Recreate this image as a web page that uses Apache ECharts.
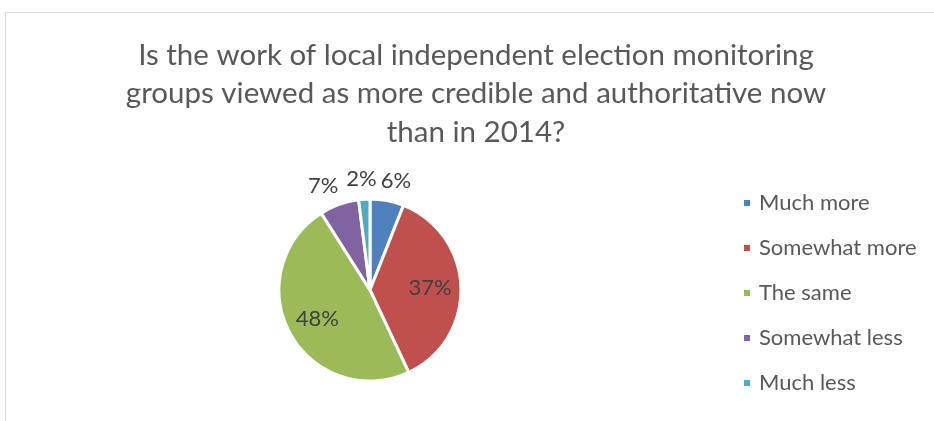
<!DOCTYPE html>
<html>
<head>
<meta charset="utf-8">
<script src="https://cdn.jsdelivr.net/npm/echarts@6/dist/echarts.min.js"></script>
<style>
  html, body { margin: 0; padding: 0; background: #ffffff; }
  #chart { width: 934px; height: 421px; }
</style>
</head>
<body>
<div id="chart"></div>
<script>
// Survey answers and their shares (percent)
var categories = ['Much more', 'Somewhat more', 'The same', 'Somewhat less', 'Much less'];
var shares = [6, 37, 48, 7, 2];
var colors = ['#4F81BD', '#C0504D', '#9BBB59', '#8064A2', '#4BACC6'];
// Large slices carry their label inside, small ones outside
var labelInside = [false, true, true, false, false];

var titleText = 'Is the work of local independent election monitoring\n' +
  'groups viewed as more credible and authoritative now\n' +
  'than in 2014?';

var FONT = 'Lato, "Open Sans", sans-serif';
var PIE_CENTER = [370, 290];
var PIE_RADIUS = 91;

// Mid angle of every slice, clockwise from 12 o'clock (radians)
var total = shares.reduce(function (a, b) { return a + b; }, 0);
var midAngles = [];
(function () {
  var acc = 0;
  shares.forEach(function (v) {
    midAngles.push((acc + v / 2) / total * Math.PI * 2);
    acc += v;
  });
})();

var chart = echarts.init(document.getElementById('chart'), null, { renderer: 'canvas' });

var data = categories.map(function (name, i) {
  return {
    name: name,
    value: shares[i],
    itemStyle: { color: colors[i] },
    label: { position: labelInside[i] ? 'inside' : 'outside' }
  };
});

// Inside labels sit at ~2/3 of the radius; outside labels sit just past
// the rim, pushed sideways by part of their own width.
function placeLabel(params) {
  var i = params.dataIndex;
  var a = midAngles[i];
  var sx = Math.sin(a), sy = -Math.cos(a);
  var w = params.labelRect.width, h = params.labelRect.height;
  var x, y;
  if (labelInside[i]) {
    x = PIE_CENTER[0] + sx * PIE_RADIUS * 0.66;
    y = PIE_CENTER[1] + sy * PIE_RADIUS * 0.66;
  } else {
    var r = PIE_RADIUS + 9;
    var side = sx < 0 ? -1 : 1;
    x = PIE_CENTER[0] + sx * r + side * w * 0.5 * Math.min(1, 2.5 * Math.abs(sx));
    y = PIE_CENTER[1] + sy * r + sy * h * 0.5;
  }
  return { x: x, y: y, align: 'center', verticalAlign: 'middle' };
}

chart.setOption({
  animation: false,
  backgroundColor: '#ffffff',
  graphic: [{
    type: 'rect',
    shape: { x: 5.5, y: 12.5, width: 1000, height: 1000 },
    style: { fill: 'none', stroke: '#d9d9d9', lineWidth: 1 },
    silent: true,
    z: -1
  }],
  title: {
    text: titleText,
    left: 476,
    top: 36,
    textAlign: 'center',
    padding: 0,
    textStyle: {
      fontFamily: FONT,
      fontSize: 29.5,
      fontWeight: 'normal',
      color: '#595959',
      lineHeight: 38.5
    }
  },
  legend: {
    orient: 'vertical',
    left: 742,
    top: 192,
    padding: 0,
    itemWidth: 8,
    itemHeight: 8,
    itemGap: 23,
    icon: 'rect',
    selectedMode: false,
    data: categories,
    textStyle: {
      fontFamily: FONT,
      fontSize: 22,
      lineHeight: 22,
      color: '#595959',
      padding: [0, 0, 0, 3]
    }
  },
  series: [{
    type: 'pie',
    center: PIE_CENTER,
    radius: PIE_RADIUS,
    startAngle: 90,
    clockwise: true,
    avoidLabelOverlap: false,
    itemStyle: { borderColor: '#ffffff', borderWidth: 3 },
    label: {
      show: true,
      formatter: '{c}%',
      fontFamily: FONT,
      fontSize: 22,
      color: '#404040'
    },
    labelLine: { show: false, length: 10, length2: 0 },
    labelLayout: placeLabel,
    emphasis: { disabled: true },
    data: data
  }]
});
</script>
</body>
</html>
